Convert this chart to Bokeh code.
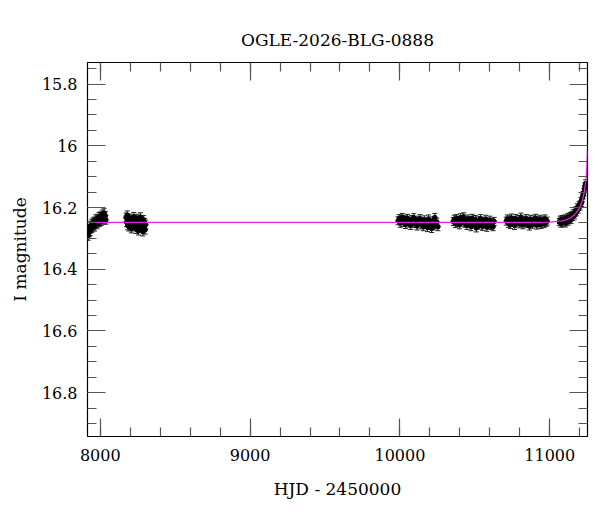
from bokeh.plotting import figure
from bokeh.models import (ColumnDataSource, Range1d, LinearAxis, SingleIntervalTicker,
                          CustomJSTickFormatter, Whisker, TeeHead)
from bokeh.embed import file_html
from bokeh.resources import INLINE

# ---- data ----
t1 = [7912, 7916, 7919, 7923, 7926, 7930, 7933, 7937, 7941, 7944, 7948, 7952, 7955, 7959, 7962,
      7966, 7970, 7973, 7977, 7981, 7984, 7988, 7992, 7995, 7999, 8003, 8006, 8010, 8014, 8018,
      8022, 8026, 8030, 8034, 8038]
m1 = [16.288, 16.275, 16.292, 16.270, 16.281, 16.262, 16.277, 16.258, 16.268, 16.252, 16.265,
      16.248, 16.259, 16.245, 16.262, 16.250, 16.238, 16.255, 16.244, 16.236, 16.252, 16.241,
      16.230, 16.247, 16.238, 16.228, 16.244, 16.233, 16.222, 16.240, 16.229, 16.218, 16.236,
      16.227, 16.240]
e1 = 0.014

t2 = [8172, 8176, 8180, 8184, 8188, 8192, 8196, 8200, 8204, 8208, 8212, 8216, 8220, 8224, 8228,
      8232, 8236, 8240, 8244, 8248, 8252, 8256, 8260, 8264, 8268, 8272, 8276, 8280, 8284, 8288,
      8292, 8296, 8300, 8304]
m2 = [16.232, 16.248, 16.225, 16.258, 16.240, 16.262, 16.235, 16.251, 16.244, 16.268, 16.238,
      16.255, 16.247, 16.230, 16.262, 16.250, 16.241, 16.270, 16.236, 16.256, 16.248, 16.275,
      16.242, 16.258, 16.231, 16.266, 16.252, 16.245, 16.278, 16.240, 16.261, 16.249, 16.272,
      16.255]
e2 = 0.014

t3 = [9988, 9995, 10002, 10009, 10016, 10023, 10030, 10037, 10044, 10051, 10058, 10065, 10072,
      10079, 10086, 10093, 10100, 10107, 10114, 10121, 10128, 10135, 10142, 10149, 10156, 10163,
      10170, 10177, 10184, 10191, 10198, 10205, 10212, 10219, 10226, 10233, 10240, 10247, 10254]
m3 = [16.243, 16.236, 16.251, 16.240, 16.232, 16.248, 16.238, 16.255, 16.242, 16.235, 16.250,
      16.244, 16.258, 16.239, 16.247, 16.233, 16.252, 16.245, 16.260, 16.241, 16.249, 16.236,
      16.256, 16.246, 16.262, 16.240, 16.253, 16.248, 16.265, 16.237, 16.257, 16.250, 16.268,
      16.243, 16.259, 16.232, 16.254, 16.247, 16.262]
e3 = 0.013

t4 = [10356, 10363, 10370, 10377, 10384, 10391, 10398, 10405, 10412, 10419, 10426, 10433, 10440,
      10447, 10454, 10461, 10468, 10475, 10482, 10489, 10496, 10503, 10510, 10517, 10524, 10531,
      10538, 10545, 10552, 10559, 10566, 10573, 10580, 10587, 10594, 10601, 10608, 10615, 10622,
      10629]
m4 = [16.245, 16.238, 16.252, 16.236, 16.248, 16.241, 16.256, 16.233, 16.247, 16.239,
      16.230, 16.251, 16.244, 16.258, 16.237, 16.249, 16.242, 16.262, 16.235, 16.253,
      16.246, 16.239, 16.266, 16.250, 16.243, 16.257, 16.236, 16.248, 16.261, 16.244,
      16.252, 16.238, 16.264, 16.247, 16.255, 16.241, 16.258, 16.249, 16.262, 16.245]
e4 = 0.013

t5 = [10710, 10717, 10724, 10731, 10738, 10745, 10752, 10759, 10766, 10773, 10780, 10787, 10794,
      10801, 10808, 10815, 10822, 10829, 10836, 10843, 10850, 10857, 10864, 10871, 10878, 10885,
      10892, 10899, 10906, 10913, 10920, 10927, 10934, 10941, 10948, 10955, 10962, 10969, 10976,
      10983]
m5 = [16.244, 16.237, 16.251, 16.240, 16.255, 16.234, 16.248, 16.242, 16.258, 16.236,
      16.250, 16.245, 16.239, 16.253, 16.231, 16.247, 16.256, 16.241, 16.249, 16.236,
      16.252, 16.244, 16.260, 16.238, 16.246, 16.254, 16.240, 16.249, 16.235, 16.257,
      16.243, 16.250, 16.238, 16.255, 16.246, 16.241, 16.252, 16.237, 16.248, 16.244]
e5 = 0.013

t6 = [11064, 11070, 11076, 11082, 11088, 11094, 11100, 11106, 11112, 11118, 11124, 11130, 11136,
      11142, 11148, 11154, 11160, 11166, 11172, 11178, 11184, 11190, 11196, 11202, 11208, 11213,
      11218, 11223, 11228, 11232, 11236, 11240]
m6 = [16.247, 16.240, 16.252, 16.238, 16.249, 16.243, 16.236, 16.251, 16.240, 16.232, 16.245,
      16.236, 16.228, 16.240, 16.224, 16.230, 16.218, 16.225, 16.210, 16.215, 16.200, 16.206,
      16.192, 16.196, 16.180, 16.184, 16.168, 16.160, 16.150, 16.140, 16.132, 16.122]
e6 = 0.012

model_t = [7915, 10900, 11000, 11050, 11080, 11110, 11140, 11160, 11180, 11195, 11210, 11220,
           11230, 11238, 11244, 11248, 11252]
model_mag = [16.248, 16.248, 16.247, 16.245, 16.243, 16.240, 16.233, 16.226, 16.215, 16.204,
             16.188, 16.173, 16.150, 16.125, 16.095, 16.065, 16.015]

title_text = "OGLE-2026-BLG-0888"
x_label = "HJD - 2450000"
y_label = "I magnitude"

# ---- build table ----
ts, ms, lo, hi = [], [], [], []
for t, m, e in [(t1, m1, e1), (t2, m2, e2), (t3, m3, e3), (t4, m4, e4), (t5, m5, e5), (t6, m6, e6)]:
    for a, b in zip(t, m):
        ts.append(a); ms.append(b); lo.append(b - e); hi.append(b + e)
src = ColumnDataSource(dict(t=ts, m=ms, lo=lo, hi=hi))

FONT = "DejaVu Serif"

p = figure(frame_width=500, frame_height=374, output_backend="svg", toolbar_location=None,
           x_range=Range1d(7915, 11252), y_range=Range1d(16.942, 15.730),
           min_border_left=87, min_border_right=12, min_border_top=62, min_border_bottom=74,
           x_axis_type=None, y_axis_type=None)
p.title.text = title_text
p.title.align = "center"
p.title.text_font = FONT
p.title.text_font_size = "17px"
p.title.text_font_style = "normal"
p.title.text_color = "black"
p.title.standoff = 26
p.grid.visible = False
p.outline_line_color = "black"
p.outline_line_width = 1.2
p.background_fill_color = "white"
p.border_fill_color = "white"

fmt = CustomJSTickFormatter(code="return Number(tick.toFixed(2)).toString();")
blank = CustomJSTickFormatter(code="return '';")

def mk_axis(kind, labels):
    if kind == "x":
        tk = SingleIntervalTicker(interval=1000, num_minor_ticks=5)
    else:
        tk = SingleIntervalTicker(interval=0.2, num_minor_ticks=4)
    ax = LinearAxis(ticker=tk, formatter=fmt if labels else blank)
    ax.axis_line_color = None
    ax.major_tick_in = 18
    ax.major_tick_out = 0
    ax.minor_tick_in = 9
    ax.minor_tick_out = 0
    ax.major_tick_line_color = "#555555"
    ax.minor_tick_line_color = "#555555"
    ax.major_tick_line_width = 1.2
    ax.minor_tick_line_width = 1.2
    if labels:
        ax.major_label_text_font = FONT
        ax.major_label_text_font_size = "16px"
        ax.major_label_text_color = "black"
        ax.major_label_standoff = 12 if kind == "x" else 10
        ax.axis_label_text_font = FONT
        ax.axis_label_text_font_size = "17px"
        ax.axis_label_text_font_style = "normal"
        ax.axis_label_text_color = "black"
        ax.axis_label_standoff = 15 if kind == "x" else 9
    else:
        ax.major_label_standoff = 0
    return ax

xb = mk_axis("x", True); xb.axis_label = x_label
yl = mk_axis("y", True); yl.axis_label = y_label
p.add_layout(xb, "below")
p.add_layout(yl, "left")
p.add_layout(mk_axis("x", False), "above")
p.add_layout(mk_axis("y", False), "right")

w = Whisker(source=src, base="t", lower="lo", upper="hi", dimension="height",
            line_color="#222222", line_width=1,
            lower_head=TeeHead(size=5, line_color="#222222", line_width=1),
            upper_head=TeeHead(size=5, line_color="#222222", line_width=1))
p.add_layout(w)
p.scatter("t", "m", source=src, size=4.5, color="black")
p.line(model_t, model_mag, line_color="#e81ee8", line_width=1.3)

open("out.html", "w").write(file_html(p, INLINE))
